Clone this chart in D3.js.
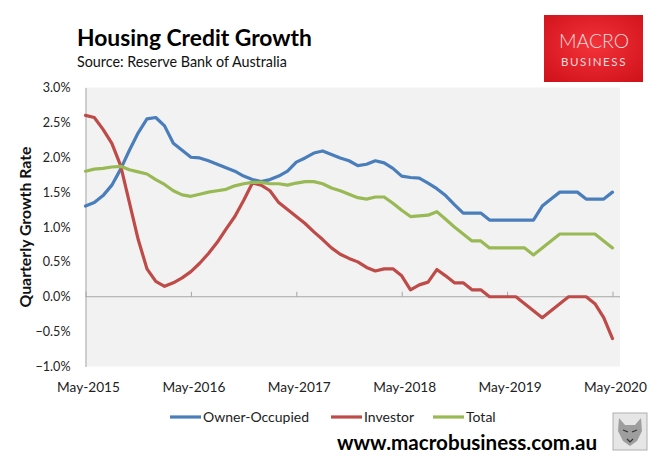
<!DOCTYPE html>
<html>
<head>
<meta charset="utf-8">
<script src="https://cdn.jsdelivr.net/npm/d3@7"></script>
<style>
  html, body { margin: 0; padding: 0; background: #ffffff; }
  svg { display: block; }
  text { font-family: Lato, "Noto Sans", sans-serif; }
</style>
</head>
<body>
<svg id="chart" width="660" height="464"></svg>
<script>
// ---- Data (monthly, May-2015 .. May-2020) ----
const tickLabels = ["May-2015", "May-2016", "May-2017", "May-2018", "May-2019", "May-2020"];
const yTickValues = [-1.0, -0.5, 0.0, 0.5, 1.0, 1.5, 2.0, 2.5, 3.0];
const seriesNames = ["Owner-Occupied", "Investor", "Total"];

const ownerOccupied = [
  1.30, 1.35, 1.45, 1.60, 1.83, 2.10, 2.35, 2.55, 2.57, 2.45,
  2.20, 2.10, 2.00, 1.99, 1.95, 1.90, 1.85, 1.80, 1.73, 1.68,
  1.65, 1.68, 1.73, 1.80, 1.93, 1.99, 2.06, 2.09, 2.04, 1.99,
  1.95, 1.88, 1.90, 1.95, 1.92, 1.84, 1.73, 1.71, 1.70, 1.63,
  1.55, 1.45, 1.32, 1.20, 1.20, 1.20, 1.10, 1.10, 1.10, 1.10,
  1.10, 1.10, 1.30, 1.40, 1.50, 1.50, 1.50, 1.40, 1.40, 1.40,
  1.50
];
const investor = [
  2.60, 2.57, 2.40, 2.20, 1.88, 1.35, 0.82, 0.40, 0.22, 0.15,
  0.20, 0.27, 0.36, 0.48, 0.62, 0.78, 0.97, 1.15, 1.38, 1.63,
  1.60, 1.52, 1.35, 1.25, 1.15, 1.05, 0.93, 0.82, 0.70, 0.61,
  0.55, 0.50, 0.42, 0.37, 0.40, 0.40, 0.30, 0.10, 0.17, 0.21,
  0.39, 0.30, 0.20, 0.20, 0.10, 0.10, 0.00, 0.00, 0.00, 0.00,
  -0.10, -0.20, -0.30, -0.20, -0.10, 0.00, 0.00, 0.00, -0.10, -0.30,
  -0.60
];
const total = [
  1.80, 1.83, 1.84, 1.86, 1.87, 1.82, 1.79, 1.76, 1.68, 1.61,
  1.52, 1.46, 1.44, 1.47, 1.50, 1.52, 1.54, 1.59, 1.62, 1.64,
  1.64, 1.62, 1.62, 1.60, 1.63, 1.65, 1.65, 1.62, 1.56, 1.52,
  1.47, 1.42, 1.40, 1.43, 1.43, 1.34, 1.24, 1.15, 1.16, 1.17,
  1.22, 1.11, 1.00, 0.90, 0.80, 0.80, 0.70, 0.70, 0.70, 0.70,
  0.70, 0.60, 0.70, 0.80, 0.90, 0.90, 0.90, 0.90, 0.90, 0.80,
  0.70
];
const colors = ["#4a7ebb", "#be4b48", "#98b954"];

// ---- Layout ----
const svg = d3.select("#chart");
const plot = { left: 85.5, right: 620, top: 87.5, bottom: 366.5 };

const x = d3.scaleLinear().domain([0, 60]).range([85.5, 612.5]);
const y = d3.scaleLinear().domain([-1, 3]).range([366.5, 87.5]);

function fitText(sel, width) {
  const node = sel.node();
  const fs = parseFloat(sel.attr("font-size"));
  const w = node.getComputedTextLength();
  if (w > 0) sel.attr("font-size", (fs * width / w).toFixed(2));
  return sel;
}
function fitGroup(sel, refIndex, width) {
  const node = sel.nodes()[refIndex];
  const fs = parseFloat(d3.select(node).attr("font-size"));
  const w = node.getComputedTextLength();
  if (w > 0) sel.attr("font-size", (fs * width / w).toFixed(2));
  return sel;
}

// plot background
svg.append("rect")
  .attr("x", plot.left).attr("y", plot.top)
  .attr("width", plot.right - plot.left).attr("height", plot.bottom - plot.top)
  .attr("fill", "#f2f2f2");

// y axis
const yAxis = svg.append("g")
  .attr("transform", `translate(${plot.left},0)`)
  .call(d3.axisLeft(y).tickValues(yTickValues).tickSize(0).tickPadding(15)
        .tickFormat(d => d3.format(".1f")(d) + "%"));
yAxis.select(".domain").attr("stroke", "#a6a6a6");
const yLabels = yAxis.selectAll("text")
  .attr("font-size", 13.5).attr("fill", "#222")
  .attr("font-family", "Lato, sans-serif");
fitGroup(yLabels, 0, 35);

// x axis at zero
const xTicks = d3.range(0, 61, 12);
const xAxis = svg.append("g")
  .attr("transform", `translate(0,${y(0)})`)
  .call(d3.axisTop(x).tickValues(xTicks).tickSize(5).tickFormat(""));
xAxis.select(".domain").attr("stroke", "#a6a6a6").attr("d", `M${plot.left},0H${plot.right}`);
xAxis.selectAll(".tick line").attr("stroke", "#a6a6a6");

// x labels at bottom
const xLabels = svg.append("g").selectAll("text")
  .data(xTicks)
  .join("text")
  .attr("x", d => x(d) + 3)
  .attr("y", 392)
  .attr("text-anchor", "middle")
  .attr("font-size", 13.5)
  .attr("fill", "#222")
  .text((d, i) => tickLabels[i]);
fitGroup(xLabels, 0, 63);

// lines
const series = [ownerOccupied, investor, total];
const line = d3.line().x((d, i) => x(i)).y(d => y(d));
svg.append("g").selectAll("path")
  .data(series)
  .join("path")
  .attr("d", line)
  .attr("fill", "none")
  .attr("stroke", (d, i) => colors[i])
  .attr("stroke-width", 3.2)
  .attr("stroke-linejoin", "round")
  .attr("stroke-linecap", "round");

// y axis title
svg.append("text")
  .attr("transform", `translate(31,${(plot.top + plot.bottom) / 2}) rotate(-90)`)
  .attr("text-anchor", "middle")
  .attr("font-size", 14)
  .attr("font-weight", "bold")
  .attr("fill", "#111")
  .text("Quarterly Growth Rate")
  .call(s => fitText(s, 161));

// title and subtitle
svg.append("text")
  .attr("x", 77).attr("y", 46)
  .attr("font-size", 22).attr("font-weight", "bold").attr("fill", "#000")
  .text("Housing Credit Growth")
  .call(s => fitText(s, 235));
svg.append("text")
  .attr("x", 77).attr("y", 67)
  .attr("font-size", 14).attr("fill", "#111")
  .text("Source: Reserve Bank of Australia")
  .call(s => fitText(s, 210));

// legend
const legendX = [170, 331, 433];
const lg = svg.append("g").selectAll("g")
  .data(seriesNames)
  .join("g")
  .attr("transform", (d, i) => `translate(${legendX[i]},417)`);
lg.append("line")
  .attr("x1", 0).attr("x2", 31).attr("y1", 0).attr("y2", 0)
  .attr("stroke", (d, i) => colors[i]).attr("stroke-width", 3.2);
const legendTexts = lg.append("text")
  .attr("x", 33).attr("y", 0).attr("dy", "0.35em")
  .attr("font-size", 13.5).attr("fill", "#222")
  .text(d => d);
fitGroup(legendTexts, 0, 106);

// website
svg.append("text")
  .attr("x", 337).attr("y", 450)
  .attr("font-size", 18).attr("font-weight", "bold").attr("fill", "#000")
  .text("www.macrobusiness.com.au")
  .call(s => fitText(s, 260));

// wolf badge (simple stand-in)
const wolf = svg.append("g").attr("transform", "translate(613,413)");
wolf.append("rect").attr("width", 34).attr("height", 37)
  .attr("fill", "#e6e6e6").attr("stroke", "#b0b0b0");
wolf.append("path")
  .attr("d", "M6,5 L12,12 L22,12 L28,5 L29,18 L24,28 L17,33 L10,28 L5,18 Z")
  .attr("fill", "#8c8c8c").attr("opacity", 0.8);
wolf.append("path")
  .attr("d", "M10,17 L15,19 M19,19 L24,17 M14,26 L17,29 L20,26")
  .attr("stroke", "#333").attr("stroke-width", 1.2).attr("fill", "none");

// logo
const defs = svg.append("defs");
const grad = defs.append("radialGradient").attr("id", "logoGrad")
  .attr("cx", "50%").attr("cy", "45%").attr("r", "70%");
grad.append("stop").attr("offset", "0%").attr("stop-color", "#f4333a");
grad.append("stop").attr("offset", "100%").attr("stop-color", "#d0121b");
svg.append("rect")
  .attr("x", 544).attr("y", 15).attr("width", 99).attr("height", 67)
  .attr("fill", "url(#logoGrad)");
svg.append("text")
  .attr("x", 594).attr("y", 48).attr("text-anchor", "middle")
  .attr("font-size", 22).attr("fill", "#f7dcdc")
  .attr("font-family", "Roboto, sans-serif").attr("font-weight", 300)
  .text("MACRO")
  .call(s => fitText(s, 70));
svg.append("text")
  .attr("x", 594).attr("y", 66).attr("text-anchor", "middle")
  .attr("font-size", 11.5).attr("fill", "#f7dcdc")
  .attr("font-family", "Roboto, sans-serif")
  .attr("letter-spacing", 1.6)
  .text("BUSINESS");
</script>
</body>
</html>
